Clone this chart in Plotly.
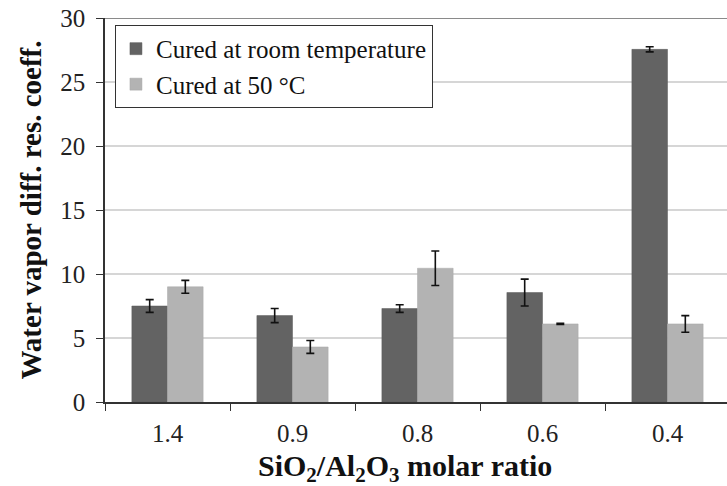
import plotly.graph_objects as go

# SiO2/Al2O3 molar ratio categories
ratios = ["1.4", "0.9", "0.8", "0.6", "0.4"]

# Water vapour diffusion resistance coefficient
room_temp = [7.5, 6.75, 7.3, 8.55, 27.55]
room_temp_err = [0.5, 0.55, 0.3, 1.05, 0.2]

cured_50 = [9.0, 4.3, 10.45, 6.1, 6.1]
cured_50_err = [0.5, 0.5, 1.35, 0.05, 0.65]

y_ticks = [0, 5, 10, 15, 20, 25, 30]

serif = "Liberation Serif"

fig = go.Figure()
fig.add_trace(go.Bar(
    x=ratios, y=room_temp, name="Cured at room temperature",
    marker=dict(color="#636363", line=dict(color="#5a5a5a", width=0.5)),
    error_y=dict(type="data", array=room_temp_err, color="#111111",
                 thickness=1.6, width=4),
))
fig.add_trace(go.Bar(
    x=ratios, y=cured_50, name="Cured at 50 °C",
    marker=dict(color="#b3b3b3", line=dict(color="#a8a8a8", width=0.5)),
    error_y=dict(type="data", array=cured_50_err, color="#111111",
                 thickness=1.6, width=4),
))

# darker top border line at the maximum of the value axis
fig.add_shape(type="line", xref="paper", yref="y", x0=0, x1=1,
              y0=y_ticks[-1], y1=y_ticks[-1],
              line=dict(color="#8a8a8a", width=2), layer="below")

fig.add_annotation(
    text="<b>SiO<sub>2</sub>/Al<sub>2</sub>O<sub>3</sub> molar ratio</b>",
    xref="paper", yref="paper", x=0.482, y=-0.118,
    xanchor="center", yanchor="top", showarrow=False,
    font=dict(family=serif, size=30, color="#111111"),
)

fig.update_layout(
    width=727, height=486,
    margin=dict(l=105, r=0, t=18, b=84),
    paper_bgcolor="white", plot_bgcolor="white",
    barmode="group", bargap=0.43, bargroupgap=0,
    font=dict(family=serif, size=25, color="#222222"),
    showlegend=True,
    legend=dict(
        x=0.016, y=0.982, xanchor="left", yanchor="top",
        bgcolor="white", bordercolor="#333333", borderwidth=1,
        font=dict(family=serif, size=25, color="#111111"),
        itemwidth=30, tracegroupgap=0,
    ),
    xaxis=dict(
        range=[-0.5, 4.476],
        showline=True, linecolor="#333333", linewidth=1.5,
        ticks="outside", tickson="boundaries", ticklen=7,
        tickcolor="#333333", tickwidth=1.2,
        tickfont=dict(family=serif, size=25, color="#222222"),
        ticklabelstandoff=8,
        showgrid=False, zeroline=False,
    ),
    yaxis=dict(
        range=[0, 30], tickvals=y_ticks,
        showline=True, linecolor="#333333", linewidth=1.5,
        ticks="outside", ticklen=7, tickcolor="#333333", tickwidth=1.2,
        tickfont=dict(family=serif, size=25, color="#222222"),
        ticklabelstandoff=6,
        showgrid=True, gridcolor="#d6d6d6", gridwidth=1.5,
        zeroline=False,
        title=dict(text="<b>Water vapor diff. res. coeff.</b>",
                   font=dict(family=serif, size=29, color="#111111"),
                   standoff=10),
    ),
)

fig.write_html("out.html")
